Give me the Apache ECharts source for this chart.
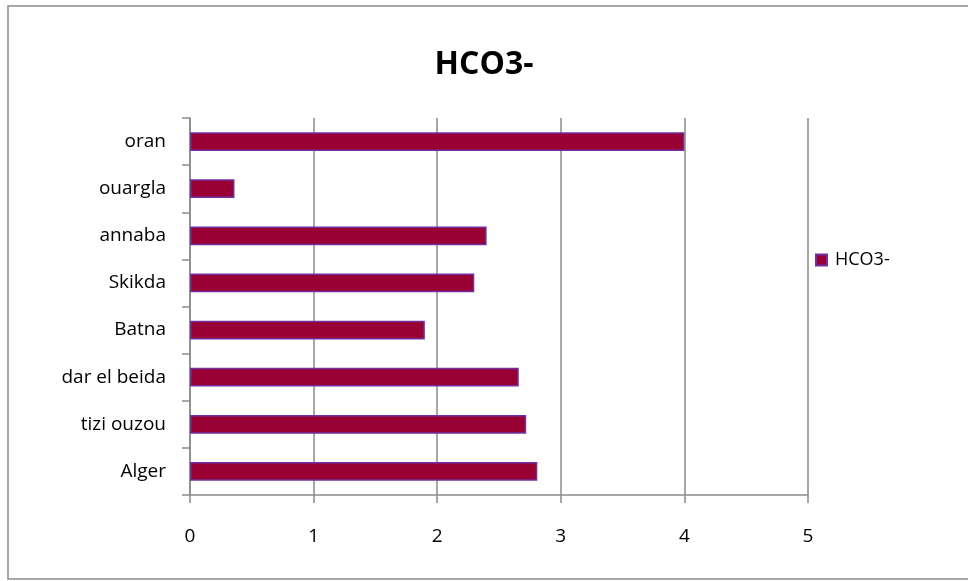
<!DOCTYPE html>
<html>
<head>
<meta charset="utf-8">
<script src="https://cdn.jsdelivr.net/npm/echarts@6/dist/echarts.min.js"></script>
<style>
  html, body { margin: 0; padding: 0; background: #ffffff; }
  #chart { width: 968px; height: 581px; }
</style>
</head>
<body>
<div id="chart"></div>
<script>
// Sites, listed bottom to top as drawn on the category axis
const categories = ['Alger', 'tizi ouzou', 'dar el beida', 'Batna', 'Skikda', 'annaba', 'ouargla', 'oran'];
// HCO3- values per site
const hco3Values = [2.81, 2.72, 2.66, 1.90, 2.30, 2.40, 0.36, 4.00];
const seriesName = 'HCO3-';
const xTicks = [0, 1, 2, 3, 4, 5];

const fontFamily = '"Open Sans", "Noto Sans", sans-serif';
const chart = echarts.init(document.getElementById('chart'), null, { renderer: 'canvas' });

chart.setOption({
  animation: false,
  backgroundColor: '#ffffff',
  graphic: [{
    type: 'rect',
    shape: { x: 8, y: 6, width: 980, height: 573 },
    style: { fill: 'none', stroke: '#8a8a8a', lineWidth: 1.5 },
    silent: true
  }],
  title: {
    text: seriesName,
    left: 'center',
    top: 44,
    textStyle: { fontFamily, fontSize: 32, fontWeight: 'bold', color: '#000000' }
  },
  legend: {
    data: [seriesName],
    orient: 'vertical',
    left: 810,
    top: 246,
    icon: 'rect',
    itemWidth: 11,
    itemHeight: 11,
    itemGap: 4,
    textStyle: { fontFamily, fontSize: 18, color: '#000000', padding: [0, 0, 0, 3] }
  },
  grid: { left: 190, right: 160, top: 118, bottom: 86, containLabel: false },
  xAxis: {
    type: 'value',
    min: xTicks[0],
    max: xTicks[xTicks.length - 1],
    interval: 1,
    axisLine: { show: true, lineStyle: { color: '#8a8a8a', width: 1.5 } },
    axisTick: { show: true, length: 8, lineStyle: { color: '#8a8a8a', width: 1.5 } },
    axisLabel: { fontFamily, fontSize: 19, color: '#000000', margin: 32 },
    splitLine: { show: true, lineStyle: { color: '#8a8a8a', width: 1.5 } }
  },
  yAxis: {
    type: 'category',
    data: categories,
    axisLine: { show: true, lineStyle: { color: '#8a8a8a', width: 1.5 } },
    axisTick: { show: true, length: 8, alignWithLabel: false, lineStyle: { color: '#8a8a8a', width: 1.5 } },
    axisLabel: { fontFamily, fontSize: 19, color: '#000000', margin: 24 },
    splitLine: { show: false }
  },
  series: [{
    name: seriesName,
    type: 'bar',
    data: hco3Values,
    barWidth: '40%',
    itemStyle: { color: '#990033', borderColor: '#7030a0', borderWidth: 1.5 }
  }]
});
</script>
</body>
</html>
